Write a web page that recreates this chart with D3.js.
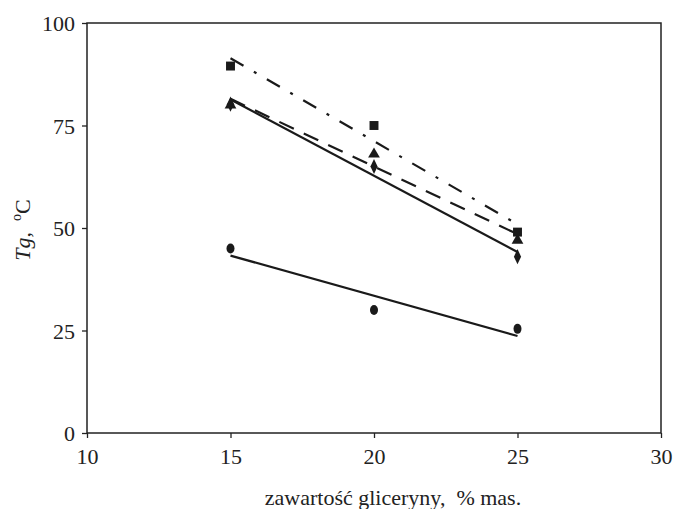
<!DOCTYPE html>
<html>
<head>
<meta charset="utf-8">
<script src="https://cdn.jsdelivr.net/npm/d3@7"></script>
<style>
  body { margin: 0; background: #fff; }
  text { font-family: "Liberation Serif", "Times New Roman", serif; fill: #222; }
</style>
</head>
<body>
<div id="chart"></div>
<script>
// glycerol content, % mass
const glycerol = [15, 20, 25];

// Tg values, one array per series
const tgSquares   = [89.5, 75, 49];
const tgTriangles = [80, 68, 47];
const tgDiamonds  = [80.2, 65, 43];
const tgCircles   = [45, 30, 25.4];

const xTicks = [10, 15, 20, 25, 30];
const yTicks = [0, 25, 50, 75, 100];

const series = [
  { values: tgSquares,   symbol: 'square',   dash: '15,12,3,12' },
  { values: tgTriangles, symbol: 'triangle', dash: '16,11' },
  { values: tgDiamonds,  symbol: 'diamond',  dash: null },
  { values: tgCircles,   symbol: 'circle',   dash: null }
];

const width = 675, height = 509;
const margin = { top: 23, right: 14, bottom: 76, left: 87 };
const w = width - margin.left - margin.right;
const h = height - margin.top - margin.bottom;

const svg = d3.select('#chart')
  .append('svg')
  .attr('width', width)
  .attr('height', height)
  .append('g')
  .attr('transform', `translate(${margin.left}, ${margin.top})`);

const scaleX = d3.scaleLinear().domain([10, 30]).range([0, w]);
const scaleY = d3.scaleLinear().domain([0, 100]).range([h, 0]);

// frame
svg.append('rect')
  .attr('width', w)
  .attr('height', h)
  .attr('fill', 'none')
  .attr('stroke', '#222')
  .attr('stroke-width', 1.5);

const xAxis = svg.append('g')
  .attr('transform', `translate(0, ${h})`)
  .call(d3.axisBottom(scaleX).tickValues(xTicks).tickSize(5).tickPadding(10).tickSizeOuter(0));

const yAxis = svg.append('g')
  .call(d3.axisLeft(scaleY).tickValues(yTicks).tickSize(5).tickPadding(7).tickSizeOuter(0));

[xAxis, yAxis].forEach(a => {
  a.select('.domain').remove();
  a.selectAll('line').attr('stroke', '#222').attr('stroke-width', 1.3);
  a.selectAll('text')
    .style('font-family', '"Liberation Serif", serif')
    .style('font-size', '22px')
    .attr('fill', '#222');
});
yAxis.selectAll('text').attr('dy', '0.35em');

// least-squares trend lines
function fit(xs, ys) {
  const mx = d3.mean(xs), my = d3.mean(ys);
  const b = d3.sum(xs, (x, i) => (x - mx) * (ys[i] - my)) / d3.sum(xs, x => (x - mx) ** 2);
  return x => my + b * (x - mx);
}

const line = d3.line()
  .x(d => scaleX(d[0]))
  .y(d => scaleY(d[1]));

series.forEach(s => {
  const f = fit(glycerol, s.values);
  const x0 = d3.min(glycerol), x1 = d3.max(glycerol);
  svg.append('path')
    .datum([[x0, f(x0)], [x1, f(x1)]])
    .attr('d', line)
    .attr('fill', 'none')
    .attr('stroke', '#1a1a1a')
    .attr('stroke-width', 2.2)
    .attr('stroke-dasharray', s.dash);
});

const symbols = {
  square: d3.symbolSquare,
  triangle: d3.symbolTriangle,
  diamond: d3.symbolDiamond
};
const sizes = { square: 80, triangle: 60, diamond: 55 };

series.slice().reverse().forEach(s => {
  const g = svg.append('g');
  glycerol.forEach((x, i) => {
    const cx = scaleX(x), cy = scaleY(s.values[i]);
    if (s.symbol === 'circle') {
      g.append('ellipse')
        .attr('cx', cx).attr('cy', cy)
        .attr('rx', 4).attr('ry', 5)
        .attr('fill', '#1a1a1a');
    } else {
      g.append('path')
        .attr('d', d3.symbol(symbols[s.symbol], sizes[s.symbol])())
        .attr('transform', `translate(${cx}, ${cy})` + (s.symbol === 'diamond' ? ' scale(0.9,1.1)' : ''))
        .attr('fill', '#1a1a1a');
    }
  });
});

// axis titles
svg.append('text')
  .attr('x', 393 - margin.left)
  .attr('y', 505 - margin.top)
  .attr('text-anchor', 'middle')
  .style('font-size', '22px')
  .text('zawartość gliceryny,  % mas.')
  .attr('xml:space', 'preserve')
  .style('white-space', 'pre');

const yLabel = svg.append('text')
  .attr('transform', `translate(${30 - margin.left}, ${230 - margin.top}) rotate(-90)`)
  .attr('text-anchor', 'middle')
  .style('font-size', '22px')
  .style('white-space', 'pre');
yLabel.append('tspan').style('font-style', 'italic').text('Tg');
yLabel.append('tspan').text(',  ');
yLabel.append('tspan').attr('dy', -9).style('font-size', '14px').text('o');
yLabel.append('tspan').attr('dy', 9).text('C');
</script>
</body>
</html>
